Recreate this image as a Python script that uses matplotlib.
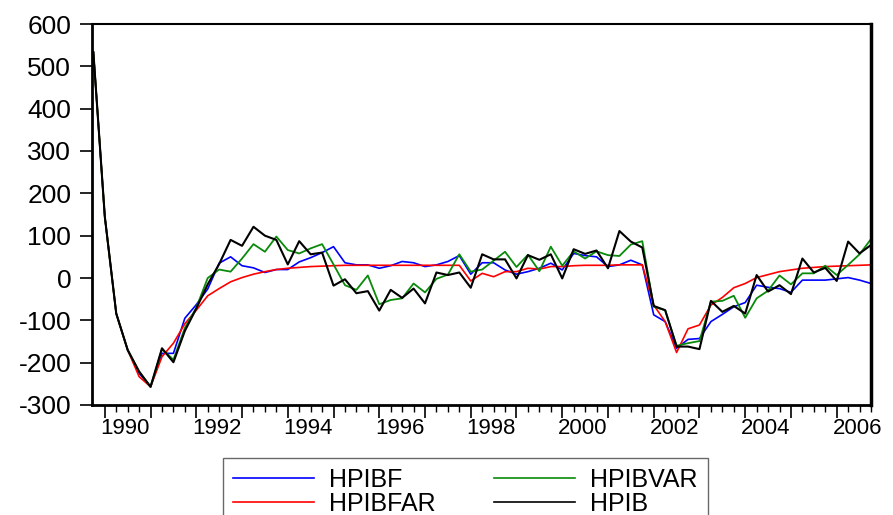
import numpy as np
import matplotlib
matplotlib.use("Agg")
import matplotlib.pyplot as plt
from matplotlib.ticker import FixedLocator, MultipleLocator

# quarterly observations, 1989Q4 .. 2006Q4
start_year = 1989.75
n_obs = 69

hpibf = [533, 145, -84, -170, -225, -257, -178, -178, -95, -63,
         -26, 35, 50, 29, 24, 13, 20, 20, 38, 48,
         60, 74, 36, 31, 31, 23, 29, 39, 36, 27,
         31, 39, 53, 9, 36, 36, 19, 9, 15, 23,
         35, 19, 58, 53, 50, 27, 31, 42, 31, -87,
         -103, -166, -145, -143, -103, -86, -68, -58, -17, -22,
         -25, -34, -5, -5, -5, -2, 1, -5, -13]

hpibfar = [533, 145, -84, -170, -233, -257, -186, -154, -108, -76,
           -42, -25, -9, 1, 9, 15, 20, 23, 25, 27,
           28, 29, 30, 30, 30, 30, 30, 30, 30, 30,
           30, 30, 30, -7, 11, 3, 15, 15, 23, 21,
           27, 27, 29, 30, 30, 30, 31, 31, 31, -64,
           -103, -176, -120, -111, -64, -46, -23, -13, 1, 8,
           15, 19, 23, 25, 27, 28, 29, 30, 31]

hpibvar = [533, 145, -84, -170, -221, -257, -168, -193, -118, -70,
           0, 20, 15, 46, 80, 62, 98, 66, 58, 70,
           80, 32, -17, -28, 6, -62, -52, -48, -13, -34,
           -2, 8, 56, 15, 20, 41, 62, 26, 55, 16,
           74, 29, 63, 46, 63, 54, 52, 79, 87, -68,
           -76, -160, -154, -149, -56, -54, -42, -94, -48, -30,
           6, -15, 11, 11, 29, 7, 31, 56, 92]

hpib = [533, 145, -84, -170, -221, -257, -166, -199, -125, -72,
        -15, 33, 90, 76, 121, 100, 90, 32, 87, 56,
        60, -18, -3, -36, -31, -77, -28, -47, -25, -60,
        13, 7, 13, -23, 56, 44, 44, -1, 54, 43,
        56, -1, 68, 57, 65, 23, 111, 86, 72, -66,
        -76, -162, -162, -168, -54, -80, -66, -84, 7, -32,
        -17, -38, 46, 13, 24, -7, 86, 58, 78]

series_names = ['HPIBF', 'HPIBFAR', 'HPIBVAR', 'HPIB']
series_colors = ['#0000ff', '#ff0000', '#0a8a0a', '#000000']
year_labels = list(range(1990, 2007, 2))

t = start_year + 0.25 * np.arange(n_obs)

plt.rcParams['font.family'] = ['Liberation Sans', 'DejaVu Sans']
plt.rcParams['axes.unicode_minus'] = False

fig = plt.figure(figsize=(8.93, 5.15), dpi=100)
ax = fig.add_axes([92 / 893, 1 - 405 / 515, (871 - 92) / 893, (405 - 24) / 515])

widths = [1.2, 1.2, 1.3, 1.5]
for vals, name, col, lw in zip([hpibf, hpibfar, hpibvar, hpib], series_names, series_colors, widths):
    ax.plot(t, vals, color=col, linewidth=lw, label=name)

ax.set_xlim(t[0] - 0.03, t[-1])
ax.set_ylim(-300, 600)
ax.yaxis.set_major_locator(MultipleLocator(100))

# long ticks at year starts, quarterly short ticks, labels mid-year
ax.xaxis.set_major_locator(FixedLocator(np.arange(1990, 2007)))
ax.xaxis.set_minor_locator(FixedLocator(np.arange(1990, 2007, 0.25)))
ax.set_xticklabels([])
for y in year_labels:
    ax.text(y + 0.45, -0.035, str(y), transform=ax.get_xaxis_transform(),
            ha='center', va='top', fontsize=16)

ax.tick_params(axis='y', direction='out', length=9, width=1.2, labelsize=19, pad=6)
ax.tick_params(axis='x', which='major', direction='out', length=9, width=1.2)
ax.tick_params(axis='x', which='minor', direction='out', length=5, width=1)

for side in ['left', 'bottom']:
    ax.spines[side].set_linewidth(2)
ax.spines['top'].set_linewidth(1.5)
ax.spines['right'].set_linewidth(2.5)

leg = fig.legend(loc='upper left', bbox_to_anchor=(223 / 893, 1 - 458 / 515),
                 borderaxespad=0, ncol=2, fontsize=18, frameon=True, fancybox=False,
                 edgecolor='#444444', handlelength=3.24, handletextpad=0.6,
                 columnspacing=2.35, labelspacing=0.0, borderpad=0.4)
leg.get_frame().set_linewidth(1.0)
for line in leg.get_lines():
    line.set_linewidth(1.2)

fig.savefig('out.png', dpi=100)
